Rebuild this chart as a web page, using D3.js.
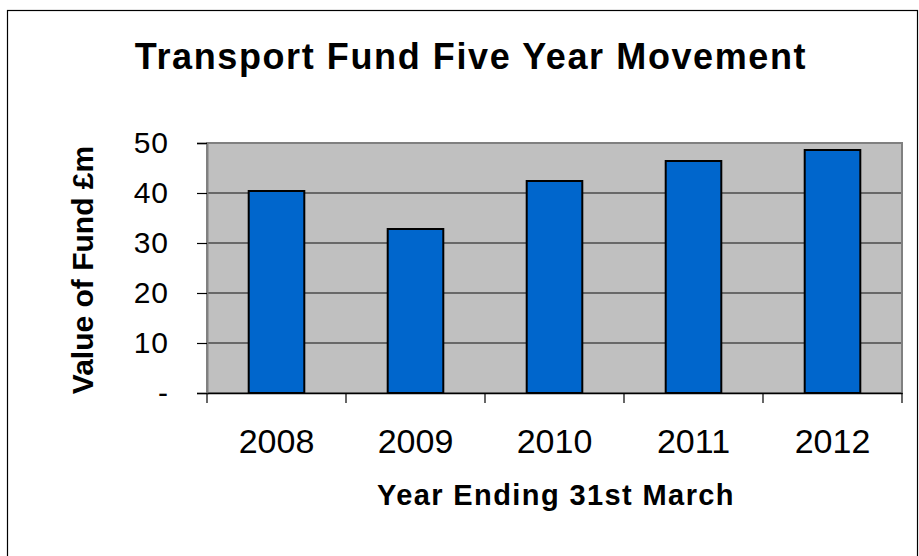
<!DOCTYPE html>
<html>
<head>
<meta charset="utf-8">
<script src="https://cdn.jsdelivr.net/npm/d3@7"></script>
<style>
  body { margin: 0; background: #fff; }
  svg { display: block; font-family: "Liberation Sans", Arial, sans-serif; }
</style>
</head>
<body>
<svg id="chart" width="919" height="556"></svg>
<script>
const years = ["2008", "2009", "2010", "2011", "2012"];
const fundValues = [40.4, 32.8, 42.4, 46.4, 48.6];
const yTicks = [0, 10, 20, 30, 40, 50];

const svg = d3.select("#chart");
const plotLeft = 207, plotRight = 902, plotTop = 143, plotBottom = 393;

// outer frame
svg.append("rect")
  .attr("x", 7.5).attr("y", 10.5)
  .attr("width", 910).attr("height", 560)
  .attr("fill", "#fff").attr("stroke", "#000").attr("stroke-width", 1.2);

const x = d3.scaleBand().domain(years).range([plotLeft, plotRight]).padding(0);
const y = d3.scaleLinear().domain([0, 50]).range([plotBottom, plotTop]);

// plot background
svg.append("rect")
  .attr("x", plotLeft).attr("y", plotTop)
  .attr("width", plotRight - plotLeft).attr("height", plotBottom - plotTop)
  .attr("fill", "#c0c0c0");

// gridlines
svg.append("g")
  .selectAll("line")
  .data(yTicks.filter((d) => d > 0 && d < 50))
  .enter()
  .append("line")
  .attr("x1", plotLeft).attr("x2", plotRight)
  .attr("y1", (d) => y(d)).attr("y2", (d) => y(d))
  .attr("stroke", "#111").attr("stroke-width", 1);

// plot border
svg.append("rect")
  .attr("x", plotLeft).attr("y", plotTop)
  .attr("width", plotRight - plotLeft).attr("height", plotBottom - plotTop)
  .attr("fill", "none").attr("stroke", "#808080").attr("stroke-width", 2);

// bars
const barW = x.bandwidth() * 0.4;
svg.append("g")
  .selectAll("rect")
  .data(fundValues)
  .enter()
  .append("rect")
  .attr("x", (_, i) => x(years[i]) + (x.bandwidth() - barW) / 2)
  .attr("y", (d) => y(d))
  .attr("width", barW)
  .attr("height", (d) => y(0) - y(d))
  .attr("fill", "#0066cc")
  .attr("stroke", "#000")
  .attr("stroke-width", 2);

// y axis
const yAxis = svg.append("g")
  .attr("transform", `translate(${plotLeft},0)`)
  .call(d3.axisLeft(y).tickValues(yTicks).tickSize(10).tickPadding(28)
    .tickFormat((d) => (d === 0 ? "-" : d)));
yAxis.select(".domain").attr("stroke", "#808080").attr("stroke-width", 2);
yAxis.selectAll(".tick line").attr("stroke", "#000").attr("stroke-width", 1.2);
yAxis.selectAll(".tick text")
  .attr("font-size", 30).attr("fill", "#000")
  .attr("letter-spacing", 1)
  .attr("font-family", "Liberation Sans, Arial, sans-serif");

// x axis
const xAxis = svg.append("g")
  .attr("transform", `translate(0,${plotBottom})`)
  .call(d3.axisBottom(x).tickSize(0).tickPadding(36));
xAxis.select(".domain").attr("stroke", "#000").attr("stroke-width", 1.5);
xAxis.selectAll(".tick text")
  .attr("font-size", 34).attr("fill", "#000")
  .attr("font-family", "Liberation Sans, Arial, sans-serif");

// category boundary ticks
xAxis.append("g")
  .selectAll("line")
  .data(years.concat(["end"]))
  .enter()
  .append("line")
  .attr("x1", (d, i) => (i < years.length ? x(d) : plotRight))
  .attr("x2", (d, i) => (i < years.length ? x(d) : plotRight))
  .attr("y1", 0).attr("y2", 10)
  .attr("stroke", "#000").attr("stroke-width", 1.2);

// titles
svg.append("text")
  .attr("x", 471).attr("y", 69)
  .attr("text-anchor", "middle")
  .attr("font-size", 36).attr("font-weight", "bold")
  .attr("letter-spacing", 1.6)
  .text("Transport Fund Five Year Movement");

svg.append("text")
  .attr("x", 556).attr("y", 505)
  .attr("text-anchor", "middle")
  .attr("font-size", 29).attr("font-weight", "bold")
  .attr("letter-spacing", 1.4)
  .text("Year Ending 31st March");

svg.append("text")
  .attr("transform", "translate(93,270) rotate(-90)")
  .attr("text-anchor", "middle")
  .attr("font-size", 30).attr("font-weight", "bold")
  .text("Value of Fund £m");
</script>
</body>
</html>
